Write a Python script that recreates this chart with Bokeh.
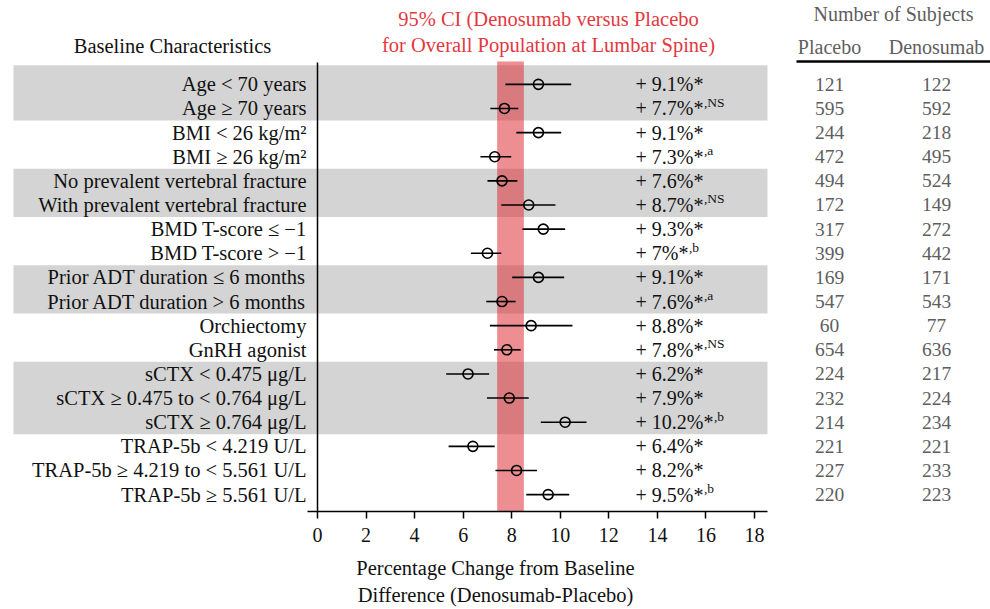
from bokeh.plotting import figure
from bokeh.models import ColumnDataSource, Range1d, FixedTicker, LinearAxis
from bokeh.core.properties import value
from bokeh.embed import file_html
from bokeh.resources import INLINE

# ---------------- data ----------------
labels = ["Age < 70 years", "Age \u2265 70 years",
          "BMI < 26 kg/m\u00b2", "BMI \u2265 26 kg/m\u00b2",
          "No prevalent vertebral fracture", "With prevalent vertebral fracture",
          "BMD T-score \u2264 \u22121", "BMD T-score > \u22121",
          "Prior ADT duration \u2264 6 months", "Prior ADT duration > 6 months",
          "Orchiectomy", "GnRH agonist",
          "sCTX < 0.475 \u03bcg/L", "sCTX \u2265 0.475 to < 0.764 \u03bcg/L", "sCTX \u2265 0.764 \u03bcg/L",
          "TRAP-5b < 4.219 U/L", "TRAP-5b \u2265 4.219 to < 5.561 U/L", "TRAP-5b \u2265 5.561 U/L"]
diff = [9.1, 7.7, 9.1, 7.3, 7.6, 8.7, 9.3, 7.0, 9.1, 7.6, 8.8, 7.8, 6.2, 7.9, 10.2, 6.4, 8.2, 9.5]
ci_lo = [7.74, 7.12, 8.19, 6.71, 7.0, 7.57, 8.44, 6.32, 8.02, 6.95, 7.1, 7.27, 5.3, 6.98, 9.2, 5.4, 7.33, 8.6]
ci_hi = [10.45, 8.27, 10.04, 7.98, 8.23, 9.8, 10.2, 7.57, 10.16, 8.16, 10.5, 8.37, 7.07, 8.7, 11.08, 7.3, 9.04, 10.37]
pct_text = ["+ 9.1%", "+ 7.7%", "+ 9.1%", "+ 7.3%", "+ 7.6%", "+ 8.7%", "+ 9.3%", "+ 7%",
            "+ 9.1%", "+ 7.6%", "+ 8.8%", "+ 7.8%", "+ 6.2%", "+ 7.9%", "+ 10.2%",
            "+ 6.4%", "+ 8.2%", "+ 9.5%"]
marks = ["", "NS", "", "a", "", "NS", "", "b", "", "a", "", "NS", "", "", "b", "", "", "b"]
placebo_n = [121, 595, 244, 472, 494, 172, 317, 399, 169, 547, 60, 654, 224, 232, 214, 221, 227, 220]
denos_n = [122, 592, 218, 495, 524, 149, 272, 442, 171, 543, 77, 636, 217, 224, 234, 221, 233, 223]
groups = [(0, 1), (2, 3), (4, 5), (6, 7), (8, 9), (10, 11), (12, 14), (15, 17)]
overall_ci = (7.4, 8.5)
xticks = [0, 2, 4, 6, 8, 10, 12, 14, 16, 18]

# ---------------- layout helpers (page px -> data units) ----------------
W, H = 990, 609
X0_PAGE, XPX = 317.0, (754.0 - 317.0) / 18.0
Y0_PAGE, YPX = 84.0, 24.18
AXIS_Y = 512


def fx(px):
    return (px - X0_PAGE) / XPX


def fy(py):
    return (py - Y0_PAGE) / YPX


FONT = "Liberation Serif"
rows = list(range(len(labels)))

p = figure(width=W, height=H, output_backend="svg", toolbar_location=None,
           x_range=Range1d(fx(0), fx(W)), y_range=Range1d(fy(AXIS_Y), fy(0)),
           x_axis_location=None, y_axis_location=None,
           min_border_left=0, min_border_right=0, min_border_top=0,
           min_border_bottom=H - AXIS_Y)
p.grid.visible = False
p.outline_line_color = None
p.background_fill_color = "white"
p.border_fill_color = "white"

# alternating gray bands
bl, br, bt, bb = [], [], [], []
for gi, (a, b) in enumerate(groups):
    if gi % 2 == 0:
        bl.append(fx(13))
        br.append(fx(767))
        bt.append(fy(65) if gi == 0 else a - 0.5)
        bb.append(b + 0.5)
p.quad(left=bl, right=br, top=bt, bottom=bb, fill_color="#d4d4d4", line_color=None)

# overall CI band
p.quad(left=[overall_ci[0]], right=[overall_ci[1]], top=[fy(61)], bottom=[fy(AXIS_Y)],
       fill_color="#dc2a32", fill_alpha=0.53, line_color=None)

# vertical reference line at 0
p.segment(x0=[0], x1=[0], y0=[fy(62)], y1=[fy(AXIS_Y)], line_color="black", line_width=1.5)

src = ColumnDataSource(dict(y=rows, diff=diff, lo=ci_lo, hi=ci_hi, label=labels))
p.segment(x0="lo", x1="hi", y0="y", y1="y", source=src, line_color="black", line_width=1.6)
p.scatter(x="diff", y="y", source=src, size=10, marker="circle",
          fill_color=None, line_color="black", line_width=1.6)

# left labels
p.text(x=fx(306), y="y", text="label", source=src, text_font=value(FONT),
       text_font_size="20.5px", text_align="right", text_baseline="middle", text_color="#111111")

# percent annotations with superscripts
char_w = {"+": 0.564, " ": 0.25, ".": 0.25, "%": 0.833, "*": 0.5}
ann_fs = 20
main_txt, sup_txt, sup_off = [], [], []
for t, m in zip(pct_text, marks):
    s = t + "*"
    main_txt.append(s)
    wpx = sum(char_w.get(c, 0.5) for c in s) * ann_fs
    sup_txt.append(("," + m) if m else "")
    sup_off.append(wpx + 0.5)
asrc = ColumnDataSource(dict(y=rows, main=main_txt, sup=sup_txt, off=sup_off))
p.text(x=fx(635), y="y", text="main", source=asrc, text_font=value(FONT),
       text_font_size=f"{ann_fs}px", text_align="left", text_baseline="middle", text_color="#111111")
p.text(x=fx(635), y="y", text="sup", source=asrc, x_offset="off", y_offset=-6,
       text_font=value(FONT), text_font_size="13.5px", text_align="left",
       text_baseline="middle", text_color="#111111")

# subject counts
nsrc = ColumnDataSource(dict(y=rows, pl=[str(v) for v in placebo_n], dn=[str(v) for v in denos_n]))
p.text(x=fx(829), y="y", text="pl", source=nsrc, text_font=value(FONT), text_font_size="19.5px",
       text_align="center", text_baseline="middle", text_color="#5e5e5e")
p.text(x=fx(936), y="y", text="dn", source=nsrc, text_font=value(FONT), text_font_size="19.5px",
       text_align="center", text_baseline="middle", text_color="#5e5e5e")

# headers
p.text(x=[fx(893)], y=[fy(14)], text=["Number of Subjects"], text_font=value(FONT),
       text_font_size="20px", text_align="center", text_baseline="middle", text_color="#5e5e5e")
p.text(x=[fx(829), fx(936)], y=[fy(47), fy(47)], text=["Placebo", "Denosumab"],
       text_font=value(FONT), text_font_size="20px", text_align="center",
       text_baseline="middle", text_color="#5e5e5e")
p.segment(x0=[fx(796)], x1=[fx(990)], y0=[fy(61)], y1=[fy(61)], line_color="black", line_width=2.5)
p.text(x=[fx(172)], y=[fy(46)], text=["Baseline Characteristics"], text_font=value(FONT),
       text_font_size="20.5px", text_align="center", text_baseline="middle", text_color="#111111")
p.text(x=[fx(548), fx(548)], y=[fy(19), fy(45)],
       text=["95% CI (Denosumab versus Placebo", "for Overall Population at Lumbar Spine)"],
       text_font=value(FONT), text_font_size="20.5px", text_align="center",
       text_baseline="middle", text_color="#e2393f")

# x axis
ax = LinearAxis(bounds=(fx(307), fx(767)), ticker=FixedTicker(ticks=xticks),
                axis_label="Percentage Change from Baseline\nDifference (Denosumab-Placebo)")
ax.axis_line_width = 1.5
ax.axis_line_color = "black"
ax.major_tick_line_color = "black"
ax.major_tick_line_width = 1.5
ax.major_tick_in = 0
ax.major_tick_out = 7
ax.minor_tick_line_color = None
ax.major_label_text_font = FONT
ax.major_label_text_font_size = "20px"
ax.major_label_text_color = "#111111"
ax.major_label_standoff = 9
ax.axis_label_text_font = FONT
ax.axis_label_text_font_size = "20.5px"
ax.axis_label_text_font_style = "normal"
ax.axis_label_text_color = "#111111"
ax.axis_label_standoff = 12
ax.axis_label_text_line_height = 1.25
p.add_layout(ax, "below")

open("out.html", "w").write(file_html(p, INLINE))
